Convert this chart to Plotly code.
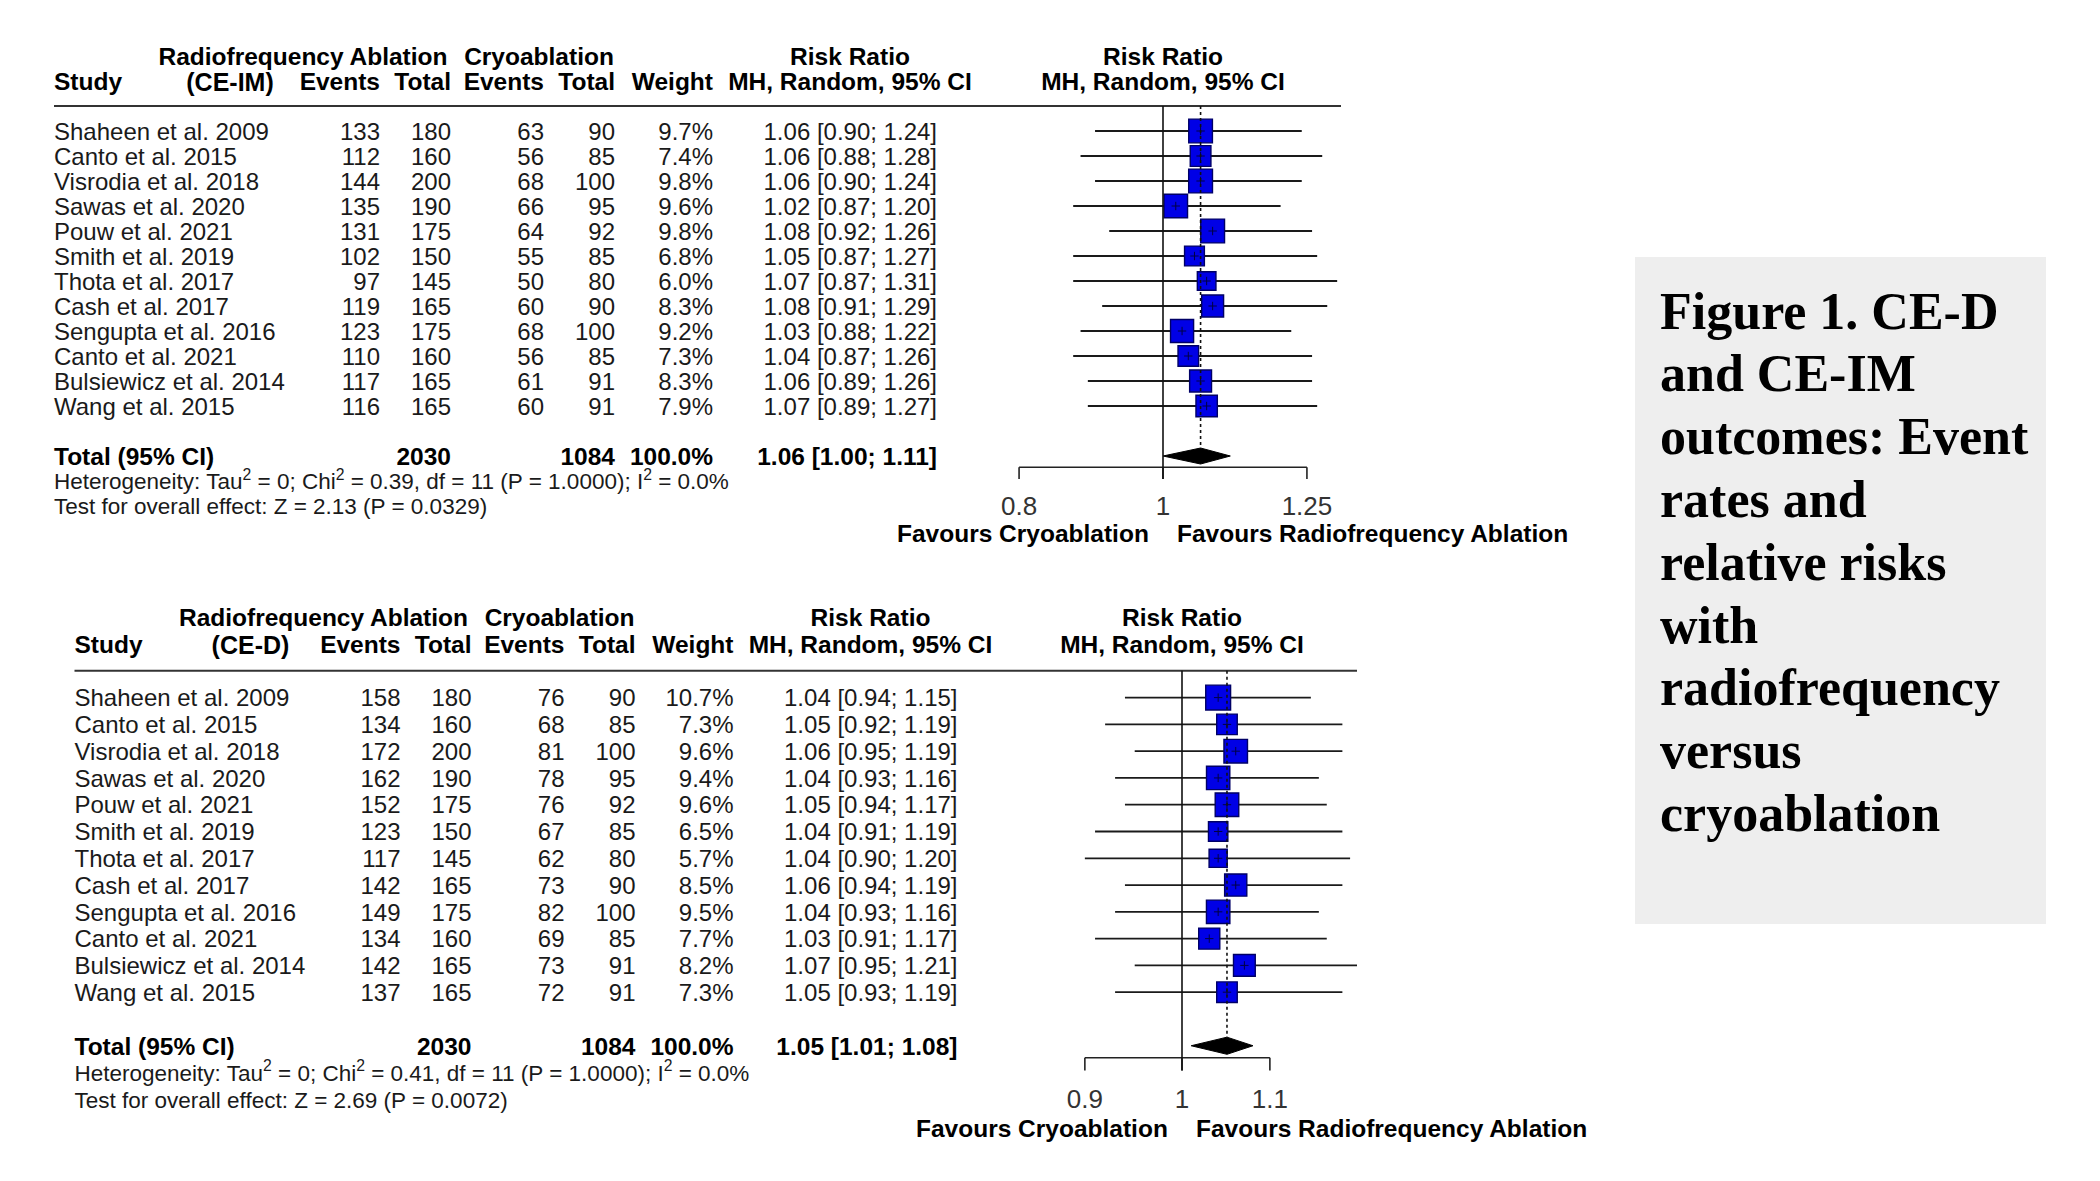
import math
import plotly.graph_objects as go

W, H = 2100, 1181
FONT = "Liberation Sans, Arial, sans-serif"
SERIF = "Liberation Serif, Times New Roman, serif"
TXT = "#1a1a1a"
TEXT_SHIFT = 0.1  # small downward nudge of text (row units)

# ---------------- data ----------------
studies = ["Shaheen et al. 2009", "Canto et al. 2015", "Visrodia et al. 2018", "Sawas et al. 2020",
           "Pouw et al. 2021", "Smith et al. 2019", "Thota et al. 2017", "Cash et al. 2017",
           "Sengupta et al. 2016", "Canto et al. 2021", "Bulsiewicz et al. 2014", "Wang et al. 2015"]

rf_total = [180, 160, 200, 190, 175, 150, 145, 165, 175, 160, 165, 165]
cryo_total = [90, 85, 100, 95, 92, 85, 80, 90, 100, 85, 91, 91]

# CE-IM (top panel)
im_rf_events = [133, 112, 144, 135, 131, 102, 97, 119, 123, 110, 117, 116]
im_cryo_events = [63, 56, 68, 66, 64, 55, 50, 60, 68, 56, 61, 60]
im_weight = [9.7, 7.4, 9.8, 9.6, 9.8, 6.8, 6.0, 8.3, 9.2, 7.3, 8.3, 7.9]
im_rr = [1.06, 1.06, 1.06, 1.02, 1.08, 1.05, 1.07, 1.08, 1.03, 1.04, 1.06, 1.07]
im_lo = [0.90, 0.88, 0.90, 0.87, 0.92, 0.87, 0.87, 0.91, 0.88, 0.87, 0.89, 0.89]
im_hi = [1.24, 1.28, 1.24, 1.20, 1.26, 1.27, 1.31, 1.29, 1.22, 1.26, 1.26, 1.27]
im_pooled = [1.06, 1.00, 1.11]
im_sum_rf, im_sum_cryo, im_sum_w = 2030, 1084, 100.0
im_het = "Heterogeneity: Tau<sup>2</sup> = 0; Chi<sup>2</sup> = 0.39, df = 11 (P = 1.0000); I<sup>2</sup> = 0.0%"
im_test = "Test for overall effect: Z = 2.13 (P = 0.0329)"
im_ticks = [0.8, 1, 1.25]
im_ticktext = ["0.8", "1", "1.25"]

# CE-D (bottom panel)
d_rf_events = [158, 134, 172, 162, 152, 123, 117, 142, 149, 134, 142, 137]
d_cryo_events = [76, 68, 81, 78, 76, 67, 62, 73, 82, 69, 73, 72]
d_weight = [10.7, 7.3, 9.6, 9.4, 9.6, 6.5, 5.7, 8.5, 9.5, 7.7, 8.2, 7.3]
d_rr = [1.04, 1.05, 1.06, 1.04, 1.05, 1.04, 1.04, 1.06, 1.04, 1.03, 1.07, 1.05]
d_lo = [0.94, 0.92, 0.95, 0.93, 0.94, 0.91, 0.90, 0.94, 0.93, 0.91, 0.95, 0.93]
d_hi = [1.15, 1.19, 1.19, 1.16, 1.17, 1.19, 1.20, 1.19, 1.16, 1.17, 1.21, 1.19]
d_pooled = [1.05, 1.01, 1.08]
d_sum_rf, d_sum_cryo, d_sum_w = 2030, 1084, 100.0
d_het = "Heterogeneity: Tau<sup>2</sup> = 0; Chi<sup>2</sup> = 0.41, df = 11 (P = 1.0000); I<sup>2</sup> = 0.0%"
d_test = "Test for overall effect: Z = 2.69 (P = 0.0072)"
d_ticks = [0.9, 1, 1.1]
d_ticktext = ["0.9", "1", "1.1"]

caption_lines = ["Figure 1. CE-D", "and CE-IM", "outcomes: Event", "rates and", "relative risks",
                 "with", "radiofrequency", "versus", "cryoablation"]

# ---------------- layout helpers ----------------
panels = [
    dict(tag="(CE-IM)", rfe=im_rf_events, ce=im_cryo_events, w=im_weight, rr=im_rr, lo=im_lo, hi=im_hi,
         pooled=im_pooled, srf=im_sum_rf, scr=im_sum_cryo, sw=im_sum_w, het=im_het, test=im_test,
         ticks=im_ticks, ticktext=im_ticktext,
         y0=131.0, dy=25.0, xoff=0.0, ref_px=1163.0, ppl=645.0, right=1341.0,
         xa="x2", ya="y", xaxis_key="xaxis2", yaxis_key="yaxis"),
    dict(tag="(CE-D)", rfe=d_rf_events, ce=d_cryo_events, w=d_weight, rr=d_rr, lo=d_lo, hi=d_hi,
         pooled=d_pooled, srf=d_sum_rf, scr=d_sum_cryo, sw=d_sum_w, het=d_het, test=d_test,
         ticks=d_ticks, ticktext=d_ticktext,
         y0=697.6, dy=26.78, xoff=20.5, ref_px=1182.0, ppl=922.0, right=1357.0,
         xa="x3", ya="y2", xaxis_key="xaxis3", yaxis_key="yaxis2"),
]

# column anchors (pixels on the table axis, top panel; bottom shifted by xoff)
NAME_X, RFE_X, RFT_X, CE_X, CT_X, W_X, RR_X = 54, 380, 451, 544, 615, 713, 937
RF_HDR_X, CRYO_HDR_X, RR_HDR_X, TAG_X = 303, 539, 850, 230
LEFT_PX = 980.0

fig = go.Figure()
shapes = []
annotations = []


def ttrace(xs, ys, texts, pos, xa, ya, size=24, bold=False, color=TXT, family=FONT):
    return go.Scatter(x=xs, y=[v + TEXT_SHIFT for v in ys], text=texts, mode="text", textposition=pos,
                      textfont=dict(family=family, size=size, color=color,
                                    weight="bold" if bold else "normal"),
                      xaxis=xa, yaxis=ya, hoverinfo="skip", showlegend=False, cliponaxis=False)


layout_axes = {}
for p in panels:
    xa, ya, o = p["xa"], p["ya"], p["xoff"]
    n = len(studies)
    rows = list(range(n))
    ta = "x"  # table axis (pixel units)

    # y axis in row units
    layout_axes[p["yaxis_key"]] = dict(domain=[0, 1], range=[(H - p["y0"]) / p["dy"], -p["y0"] / p["dy"]],
                                       visible=False, fixedrange=True)
    # forest axis (log)
    k = p["ppl"] * math.log(10)
    layout_axes[p["xaxis_key"]] = dict(type="log", domain=[LEFT_PX / W, p["right"] / W],
                                       range=[(LEFT_PX - p["ref_px"]) / k, (p["right"] - p["ref_px"]) / k],
                                       visible=False, fixedrange=True, anchor=ya)

    # headers
    fig.add_trace(ttrace([o + RF_HDR_X, o + CRYO_HDR_X, o + RR_HDR_X], [-3] * 3,
                         ["Radiofrequency Ablation", "Cryoablation", "Risk Ratio"],
                         "middle center", ta, ya, size=24.5, bold=True, color="black"))
    fig.add_trace(ttrace([o + NAME_X], [-2], ["Study"], "middle right", ta, ya, size=24.5, bold=True, color="black"))
    fig.add_trace(ttrace([o + TAG_X], [-1.95], [p["tag"]], "middle center", ta, ya, size=25, bold=True, color="black"))
    fig.add_trace(ttrace([o + RFE_X, o + RFT_X, o + CE_X, o + CT_X, o + W_X], [-2] * 5,
                         ["Events", "Total", "Events", "Total", "Weight"],
                         "middle left", ta, ya, size=24.5, bold=True, color="black"))
    fig.add_trace(ttrace([o + RR_HDR_X], [-2], ["MH, Random, 95% CI"], "middle center", ta, ya,
                         size=24.5, bold=True, color="black"))
    # plot headers centred on RR = 1
    fig.add_trace(ttrace([1, 1], [-3, -2], ["Risk Ratio", "MH, Random, 95% CI"], "middle center",
                         xa, ya, size=24.5, bold=True, color="black"))

    # study rows
    fig.add_trace(ttrace([o + NAME_X] * n, rows, studies, "middle right", ta, ya))
    fig.add_trace(ttrace([o + RFE_X] * n, rows, [str(v) for v in p["rfe"]], "middle left", ta, ya))
    fig.add_trace(ttrace([o + RFT_X] * n, rows, [str(v) for v in rf_total], "middle left", ta, ya))
    fig.add_trace(ttrace([o + CE_X] * n, rows, [str(v) for v in p["ce"]], "middle left", ta, ya))
    fig.add_trace(ttrace([o + CT_X] * n, rows, [str(v) for v in cryo_total], "middle left", ta, ya))
    fig.add_trace(ttrace([o + W_X] * n, rows, [f"{v:.1f}%" for v in p["w"]], "middle left", ta, ya))
    fig.add_trace(ttrace([o + RR_X] * n, rows,
                         [f"{r:.2f} [{l:.2f}; {h:.2f}]" for r, l, h in zip(p["rr"], p["lo"], p["hi"])],
                         "middle left", ta, ya))

    # total row
    tot_row = n + 1
    est, plo, phi = p["pooled"]
    fig.add_trace(ttrace([o + NAME_X], [tot_row], ["Total (95% CI)"], "middle right", ta, ya,
                         size=24.5, bold=True, color="black"))
    fig.add_trace(ttrace([o + RFT_X, o + CT_X, o + W_X, o + RR_X], [tot_row] * 4,
                         [str(p["srf"]), str(p["scr"]), f"{p['sw']:.1f}%",
                          f"{est:.2f} [{plo:.2f}; {phi:.2f}]"],
                         "middle left", ta, ya, size=24.5, bold=True, color="black"))
    fig.add_trace(ttrace([o + NAME_X, o + NAME_X], [tot_row + 1, tot_row + 2], [p["het"], p["test"]],
                         "middle right", ta, ya, size=22.5))

    # header rule
    shapes.append(dict(type="line", xref=ta, yref=ya, x0=o + NAME_X, x1=p["right"], y0=-1, y1=-1,
                       line=dict(color="#333333", width=2)))

    # CI lines
    cx, cy = [], []
    for i, (l, h) in enumerate(zip(p["lo"], p["hi"])):
        cx += [l, h, None]
        cy += [i, i, None]
    fig.add_trace(go.Scatter(x=cx, y=cy, mode="lines", line=dict(color="#1a1a1a", width=1.8),
                             xaxis=xa, yaxis=ya, hoverinfo="skip", showlegend=False))

    # axis (line + ticks + labels)
    ax_row, tick_len = n + 1.45, 0.47
    axx = [min(p["ticks"]), max(p["ticks"]), None]
    axy = [ax_row, ax_row, None]
    for t in p["ticks"]:
        axx += [t, t, None]
        axy += [ax_row, ax_row + tick_len, None]
    fig.add_trace(go.Scatter(x=axx, y=axy, mode="lines", line=dict(color="#222222", width=1.6),
                             xaxis=xa, yaxis=ya, hoverinfo="skip", showlegend=False))
    fig.add_trace(ttrace(p["ticks"], [n + 3] * len(p["ticks"]), p["ticktext"], "middle center", xa, ya,
                         size=26, color="#333333"))

    # reference line at 1 and dotted pooled line
    shapes.append(dict(type="line", xref=xa, yref=ya, x0=1, x1=1, y0=-1, y1=ax_row + tick_len,
                       line=dict(color="#111111", width=1.6)))
    shapes.append(dict(type="line", xref=xa, yref=ya, x0=est, x1=est, y0=-1, y1=tot_row - 0.3,
                       line=dict(color="#111111", width=1.6, dash="dot")))

    # squares (area proportional to weight)
    fig.add_trace(go.Scatter(x=p["rr"], y=rows, mode="markers",
                             marker=dict(symbol="square", size=[7.6 * math.sqrt(w) for w in p["w"]],
                                         color="#0000e6", opacity=1,
                                         line=dict(color="#000066", width=1.4)),
                             xaxis=xa, yaxis=ya, hoverinfo="skip", showlegend=False))
    # small centre point marks
    fig.add_trace(go.Scatter(x=p["rr"], y=rows, mode="markers",
                             marker=dict(symbol="cross-thin", size=6, opacity=1,
                                         line=dict(color="#000044", width=1)),
                             xaxis=xa, yaxis=ya, hoverinfo="skip", showlegend=False))

    # pooled diamond
    fig.add_trace(go.Scatter(x=[plo, est, phi, est, plo],
                             y=[tot_row, tot_row - 0.32, tot_row, tot_row + 0.32, tot_row],
                             mode="lines", fill="toself", fillcolor="black", line=dict(color="black", width=1),
                             xaxis=xa, yaxis=ya, hoverinfo="skip", showlegend=False))

    # favours labels
    fav_row = n + 4
    annotations.append(dict(xref=xa, yref=ya, x=0, y=fav_row + TEXT_SHIFT, text="Favours Cryoablation",
                            showarrow=False, xanchor="right", yanchor="middle", xshift=-12,
                            font=dict(family=FONT, size=24.5, color="black", weight="bold")))
    annotations.append(dict(xref=xa, yref=ya, x=0, y=fav_row + TEXT_SHIFT, text="Favours Radiofrequency Ablation",
                            showarrow=False, xanchor="left", yanchor="middle", xshift=12,
                            font=dict(family=FONT, size=24.5, color="black", weight="bold")))

# caption box
shapes.append(dict(type="rect", xref="paper", yref="paper", x0=1635 / W, x1=2046 / W,
                   y0=1 - 924 / H, y1=1 - 257 / H, fillcolor="#eeeeee", line=dict(width=0), layer="below"))
for i, line in enumerate(caption_lines):
    annotations.append(dict(xref="paper", yref="paper", x=1658 / W, y=1 - (311 + i * 62.8) / H, text=line,
                            showarrow=False, xanchor="left", yanchor="middle",
                            font=dict(family=SERIF, size=52, color="black", weight="bold")))

fig.update_layout(
    width=W, height=H, margin=dict(l=0, r=0, t=0, b=0),
    paper_bgcolor="white", plot_bgcolor="rgba(0,0,0,0)",
    xaxis=dict(domain=[0, 1], range=[0, W], visible=False, fixedrange=True, anchor="y"),
    shapes=shapes, annotations=annotations, showlegend=False,
    **layout_axes,
)
fig.update_layout(yaxis2=dict(overlaying="y"))

fig.write_html("out.html", config={"displayModeBar": False},
               post_script="document.body.style.margin='0';document.body.style.overflow='hidden';")
